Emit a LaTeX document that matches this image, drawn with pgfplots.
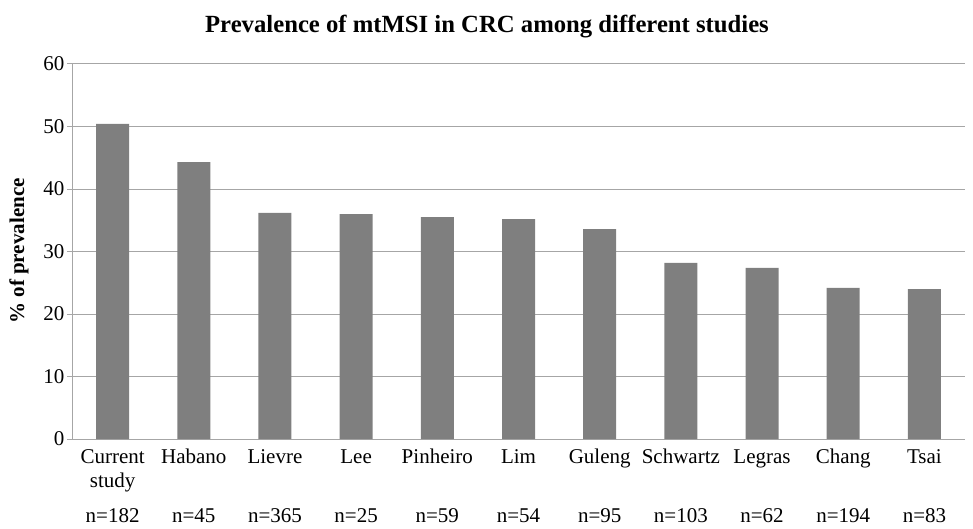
\documentclass[border=0pt]{standalone}
\usepackage{pgfplots}
\pgfplotsset{compat=1.18}
\usepackage{fontspec}
\setmainfont{Liberation Serif}
\definecolor{barc}{HTML}{7F7F7F}
\definecolor{gridc}{HTML}{A6A6A6}
\newcommand{\tl}[3]{\strut #1\\\strut #2\\[12pt]\strut n=#3}
\begin{document}
\begin{tikzpicture}
\path[use as bounding box] (0,0) rectangle (973pt,528pt);
\begin{axis}[
  at={(72pt,89pt)}, anchor=south west,
  width=893pt, height=375pt, scale only axis,
  xmin=-0.5, xmax=10.5, ymin=0, ymax=60,
  ytick={0,10,...,60},
  xtick={0,...,10},
  xticklabels={{\tl{Current}{study}{182}},{\tl{Habano}{}{45}},{\tl{Lievre}{}{365}},{\tl{Lee}{}{25}},{\tl{Pinheiro}{}{59}},{\tl{Lim}{}{54}},{\tl{Guleng}{}{95}},{\tl{Schwartz}{}{103}},{\tl{Legras}{}{62}},{\tl{Chang}{}{194}},{\tl{Tsai}{}{83}}},
  xticklabel style={align=center, font=\fontsize{21}{23.5}\selectfont, yshift=0pt},
  yticklabel style={font=\fontsize{21}{23}\selectfont, xshift=1pt},
  /pgf/number format/assume math mode=true,
  major x tick style={draw=none},
  major y tick style={draw=gridc, line width=1pt},
  tick align=outside, major tick length=5pt,
  ymajorgrids, grid style={draw=gridc, line width=1pt},
  axis line style={draw=gridc, line width=1pt},
  axis x line*=bottom, axis y line*=left,
  ybar, bar width=33pt,
]
\addplot[fill=barc, draw=none] coordinates {
(0,50.4) (1,44.3) (2,36.2) (3,36.0) (4,35.5) (5,35.2) (6,33.6) (7,28.2) (8,27.4) (9,24.2) (10,24.0)};
\end{axis}
\node[anchor=base, font=\fontsize{24.7}{26}\selectfont\bfseries] at (487pt,495pt) {Prevalence of mtMSI in CRC among different studies};
\node[rotate=90, anchor=center, font=\fontsize{21}{23}\selectfont\bfseries] at (19pt,277pt) {\% of prevalence};
\end{tikzpicture}
\end{document}
